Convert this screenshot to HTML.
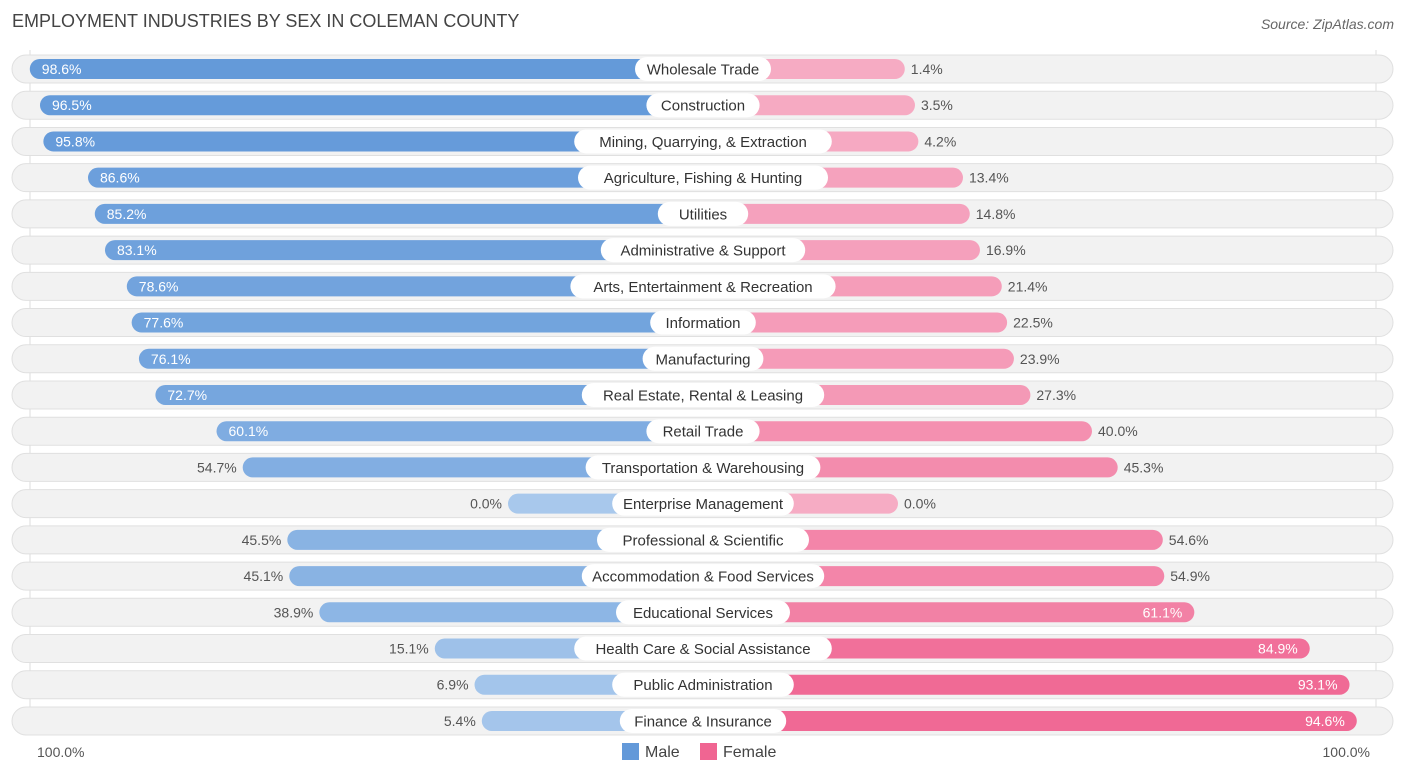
<!DOCTYPE html>
<html><head><meta charset="utf-8"><style>
body{margin:0;background:#fff;font-family:"Liberation Sans",sans-serif;}
#wrap{position:relative;width:1406px;height:776px;overflow:hidden;}
.t{position:absolute;white-space:nowrap;}
</style></head><body>
<div id="wrap">
<div class="t" style="left:12px;top:11px;font-size:18px;color:#444;">EMPLOYMENT INDUSTRIES BY SEX IN COLEMAN COUNTY</div>
<div class="t" style="right:12px;top:16px;font-size:14px;color:#666;font-style:italic;">Source: ZipAtlas.com</div>
<svg id="svg" width="1406" height="776" style="position:absolute;left:0;top:0"></svg>
<div class="t" style="left:37px;top:744px;font-size:14px;color:#555;">100.0%</div>
<div class="t" style="right:36px;top:744px;font-size:14px;color:#555;">100.0%</div>
<div class="t" style="left:622px;top:743px;font-size:16px;color:#444;"><span style="display:inline-block;width:17px;height:17px;background:#6399d9;vertical-align:-3px;margin-right:6px;"></span>Male</div>
<div class="t" style="left:700px;top:743px;font-size:16px;color:#444;"><span style="display:inline-block;width:17px;height:17px;background:#f06592;vertical-align:-3px;margin-right:6px;"></span>Female</div>
</div>
<script>
const categories=["Wholesale Trade","Construction","Mining, Quarrying, & Extraction","Agriculture, Fishing & Hunting","Utilities","Administrative & Support","Arts, Entertainment & Recreation","Information","Manufacturing","Real Estate, Rental & Leasing","Retail Trade","Transportation & Warehousing","Enterprise Management","Professional & Scientific","Accommodation & Food Services","Educational Services","Health Care & Social Assistance","Public Administration","Finance & Insurance"];
const maleValues=[98.6,96.5,95.8,86.6,85.2,83.1,78.6,77.6,76.1,72.7,60.1,54.7,0.0,45.5,45.1,38.9,15.1,6.9,5.4];
const femaleValues=[1.4,3.5,4.2,13.4,14.8,16.9,21.4,22.5,23.9,27.3,40.0,45.3,0.0,54.6,54.9,61.1,84.9,93.1,94.6];
const NS="http://www.w3.org/2000/svg";
const svg=document.getElementById('svg');
const cx=703, off=195, scale=4.85, y0=69, dy=36.22;
function xM(v){return cx-off-v*scale;}
function xF(v){return cx+off+v*scale;}
function mix(a,b,t){return 'rgb('+a.map((c,i)=>Math.round(c+(b[i]-c)*t)).join(',')+')';}
function mk(tag,attrs){const e=document.createElementNS(NS,tag);for(const k in attrs)e.setAttribute(k,attrs[k]);svg.appendChild(e);return e;}
mk('line',{x1:30,y1:50,x2:30,y2:735,stroke:'#ddd','stroke-width':1});
mk('line',{x1:1376,y1:50,x2:1376,y2:735,stroke:'#ddd','stroke-width':1});
categories.forEach((c,i)=>{
  const y=y0+i*dy;
  const bg=mk('rect',{x:12,y:y-14,width:1381,height:28,rx:14,fill:'#f2f2f2',stroke:'#e0e0e0','stroke-width':1});
  
  
  const m=maleValues[i], f=femaleValues[i];
  const mb=mk('rect',{x:xM(m),y:y-10,width:cx-xM(m),height:20,rx:10,fill:mix([168,200,236],[99,153,217],m/100)});
  
  
  const fb=mk('rect',{x:cx,y:y-10,width:xF(f)-cx,height:20,rx:10,fill:mix([246,172,196],[240,101,146],f/100)});
  
  
  const tw=c.length*7.6+22;
  const lb=mk('rect',{x:cx-tw/2,y:y-12,width:tw,height:24,rx:12,fill:'#fff'});
  
  
  const lt=mk('text',{x:cx,y:y+5.5,'text-anchor':'middle','font-size':15,fill:'#333','font-family':'Liberation Sans, sans-serif'});
  lt.textContent=c;
  
  
  const mIn=m>58;
  const mt=mk('text',{x:mIn?xM(m)+12:xM(m)-6,y:y+5,'text-anchor':mIn?'start':'end','font-size':14,fill:mIn?'#fff':'#555','font-family':'Liberation Sans, sans-serif'});
  mt.textContent=m.toFixed(1)+'%';
  
  
  const fIn=f>58;
  const ft=mk('text',{x:fIn?xF(f)-12:xF(f)+6,y:y+5,'text-anchor':fIn?'end':'start','font-size':14,fill:fIn?'#fff':'#555','font-family':'Liberation Sans, sans-serif'});
  ft.textContent=f.toFixed(1)+'%';
  
  
});
</script>
</body></html>
